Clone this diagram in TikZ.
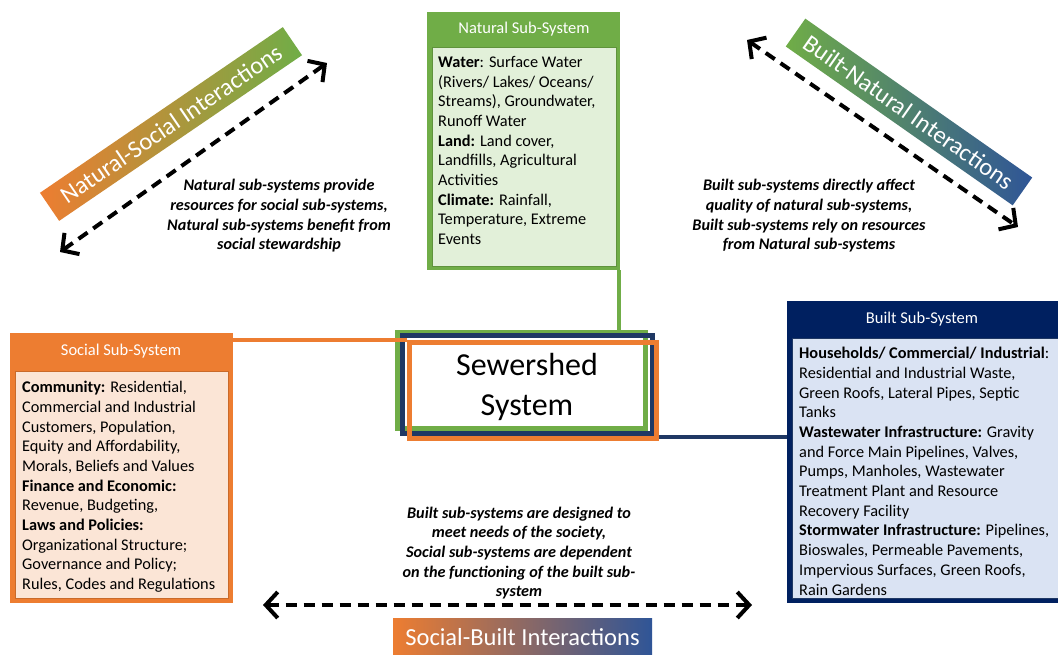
\documentclass[tikz,border=0pt]{standalone}
\usepackage{fontspec}
\setmainfont{Carlito}
\usetikzlibrary{arrows.meta}

\definecolor{sorange}{HTML}{ED7D31}
\definecolor{sgreen}{HTML}{70AD47}
\definecolor{snavy}{HTML}{002060}
\definecolor{sdarkblue}{HTML}{1F3864}
\definecolor{sblue}{HTML}{2F5597}
\definecolor{lorange}{HTML}{FBE5D6}
\definecolor{lgreen}{HTML}{E2F0D9}
\definecolor{lblue}{HTML}{DAE3F3}

\tikzset{
  subbox/.style={anchor=north west, inner sep=0pt},
  subbody/.style={anchor=north west, inner sep=0pt, line width=1pt},
  headtext/.style={text=white, font=\fontsize{16.5}{19}\selectfont},
  bodytext/.style={anchor=north west, inner sep=0pt, align=left, font=\fontsize{16.3}{19.7}\selectfont},
  banner/.style={minimum height=34pt, inner sep=0pt, text=white, font=\fontsize{24.5}{28}\selectfont},
  relnote/.style={align=center, font=\fontsize{16.2}{19.7}\selectfont\bfseries\itshape},
  relarrow/.style={line width=4pt, dash pattern=on 11pt off 7pt,
    {Straight Barb[length=12pt,width=26pt]}-{Straight Barb[length=12pt,width=26pt]}},
  ring/.style={minimum width=#1, minimum height=96pt, inner sep=0pt, line width=5pt},
}

\begin{document}
\begin{tikzpicture}[x=1pt, y=-1pt]
\clip (0,0) rectangle (1058,654);
\fill[white] (0,0) rectangle (1058,654);

\node[subbox, fill=sgreen, minimum width=193pt, minimum height=258pt] (natural) at (427,12) {};
\node[subbody, draw=sgreen!85!black, fill=lgreen, minimum width=184pt, minimum height=219pt] (naturalbody) at (432,47) {};
\node[headtext] (naturalhead) at (524,29) {Natural Sub-System};
\node[bodytext] (naturaltext) at (438,56) {\textbf{Water}: Surface Water\\(Rivers/ Lakes/ Oceans/\\Streams), Groundwater,\\Runoff Water\\\textbf{Land:} Land cover,\\Landfills, Agricultural\\Activities\\\textbf{Climate:} Rainfall,\\Temperature, Extreme\\Events};

\node[subbox, fill=sorange, minimum width=223pt, minimum height=270pt] (social) at (10,333) {};
\node[subbody, draw=sorange!85!black, fill=lorange, minimum width=213pt, minimum height=227pt] (socialbody) at (15,371) {};
\node[headtext] (socialhead) at (121,351) {Social Sub-System};
\node[bodytext] (socialtext) at (22,381) {\textbf{Community:} Residential,\\Commercial and Industrial\\Customers, Population,\\Equity and Affordability,\\Morals, Beliefs and Values\\\textbf{Finance and Economic:}\\Revenue, Budgeting,\\\textbf{Laws and Policies:}\\Organizational Structure;\\Governance and Policy;\\Rules, Codes and Regulations};

\node[subbox, fill=snavy, minimum width=280pt, minimum height=302pt] (built) at (787,301) {};
\node[subbody, draw=sdarkblue, fill=lblue, minimum width=270pt, minimum height=260pt] (builtbody) at (792,338) {};
\node[headtext] (builthead) at (922,319) {Built Sub-System};
\node[bodytext] (builttext) at (799,347) {\textbf{Households/ Commercial/ Industrial}:\\Residential and Industrial Waste,\\Green Roofs, Lateral Pipes, Septic\\Tanks\\\textbf{Wastewater Infrastructure:} Gravity\\and Force Main Pipelines, Valves,\\Pumps, Manholes, Wastewater\\Treatment Plant and Resource\\Recovery Facility\\\textbf{Stormwater Infrastructure:} Pipelines,\\Bioswales, Permeable Pavements,\\Impervious Surfaces, Green Roofs,\\Rain Gardens};

\node[ring=248pt, draw=sgreen] (greenring) at (521,380) {};
\node[ring=250pt, draw=sdarkblue, minimum height=98pt] (navyring) at (527,384) {};
\node[ring=247pt, draw=sorange] (orangering) at (532.5,390) {};
\node[font=\fontsize{32}{40}\selectfont, align=center] (sewershed) at (527,387) {Sewershed\\System};

\draw[sgreen, line width=4pt] ([xshift=-1.5pt]natural.south east) -- ([xshift=-1.5pt]natural.south east |- greenring.north);
\draw[sorange, line width=4pt] (social.north east |- orangering.north) -- (orangering.north west);
\draw[sdarkblue, line width=4pt] ([yshift=4pt]orangering.south east) -- ([yshift=4pt]orangering.south east -| built.west);

\node[banner, rotate=34.3, minimum width=294pt, left color=sorange, right color=sgreen] (nsbanner) at (171,124) {Natural-Social Interactions};
\node[banner, rotate=-35, minimum width=277pt, left color=sgreen, right color=sblue] (bnbanner) at (909,112) {Built-Natural Interactions};
\node[banner, minimum width=259pt, minimum height=38pt, left color=sorange, right color=sblue] (sbbanner) at (522.5,637) {Social-Built Interactions};

\coordinate (ns1) at (60,252);
\coordinate (ns2) at (327,63);
\coordinate (bn1) at (747,40);
\coordinate (bn2) at (1018,227);
\coordinate (sb1) at (263,605);
\coordinate (sb2) at (752,605);
\draw[relarrow] (ns1) -- (ns2);
\draw[relarrow] (bn1) -- (bn2);
\draw[relarrow] (sb1) -- (sb2);

\node[relnote] (nsnote) at (279,216) {Natural sub-systems provide\\resources for social sub-systems,\\Natural sub-systems benefit from\\social stewardship};
\node[relnote] (bnnote) at (809,216) {Built sub-systems directly affect\\quality of natural sub-systems,\\Built sub-systems rely on resources\\from Natural sub-systems};
\node[relnote] (sbnote) at (519,553) {Built sub-systems are designed to\\meet needs of the society,\\Social sub-systems are dependent\\on the functioning of the built sub-\\system};
\end{tikzpicture}
\end{document}
